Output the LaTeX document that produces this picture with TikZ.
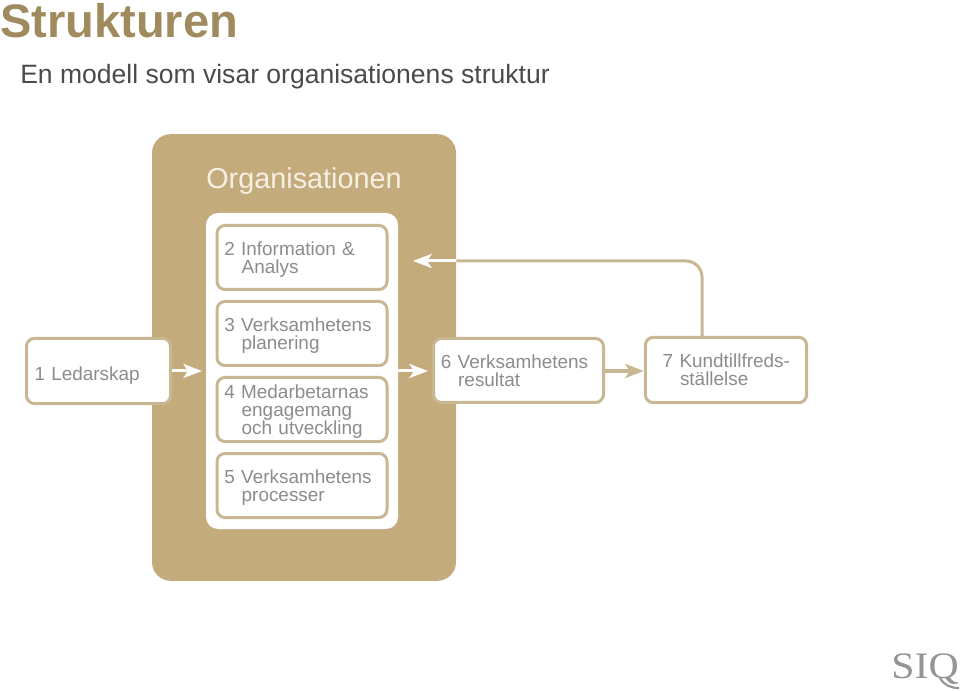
\documentclass[tikz,border=0pt]{standalone}
\usepackage{fontspec}
\setmainfont{Liberation Sans}
\newfontfamily\logofont{Liberation Serif}
\usetikzlibrary{arrows.meta}
\definecolor{goldFill}{HTML}{C4AB7C}
\definecolor{goldLine}{HTML}{C9B793}
\definecolor{goldTitle}{HTML}{A08B5E}
\definecolor{boxText}{HTML}{8C8C8E}
\definecolor{orgText}{HTML}{F6F0E2}
\definecolor{subText}{HTML}{4A4A4A}
\definecolor{logoText}{HTML}{949494}
\newcommand{\hangline}{\hspace*{13pt}}
\newcommand{\topgap}{\rule{0pt}{13pt}}
\tikzset{
  card/.style    ={draw=goldLine, fill=white, rounded corners=6pt, line width=2.25pt,
                   align=left, font=\fontsize{14.2}{13.5}\selectfont, text=boxText,
                   inner xsep=5.5pt, inner ysep=0pt},
  Linner/.style  ={card, minimum width=127.5pt, text width=116.5pt, minimum height=48pt},
  Lorg/.style    ={fill=goldFill, rounded corners=14pt, minimum width=228pt,
                   minimum height=335pt, inner sep=0pt},
  Lwhite/.style  ={fill=white, rounded corners=9pt, minimum width=144pt,
                   minimum height=237pt, inner sep=0pt},
  white-arrow/.style ={-{Stealth[length=14pt,width=10.5pt,inset=3.5pt]}, white, line width=2.25pt},
  gold-arrow/.style  ={-{Stealth[length=14pt,width=10.5pt,inset=3.5pt]}, goldLine, line width=3pt},
  gold-line/.style   ={goldLine, line width=2.25pt, rounded corners=12pt},
}
\begin{document}
\begin{tikzpicture}[x=0.75pt, y=-0.75pt]
\useasboundingbox (0,0) rectangle (960,691);

% heading
\node[anchor=base west, inner sep=0pt, font=\bfseries\fontsize{35.3}{35}\selectfont, text=goldTitle]
  (title) at (0,38) {Strukturen};
\node[anchor=base west, inner sep=0pt, font=\fontsize{19.9}{20}\selectfont, text=subText]
  (subtitle) at (20,84) {En modell som visar organisationens struktur};

% organisation block
\node[Lorg] (org) at (304,357.5) {};
\node[Lwhite] (inner) at (302,371) {};
\node[font=\fontsize{21.6}{21.6}\selectfont, text=orgText, inner sep=0pt] (orgTitle) at (304,181) {Organisationen};
\node[Linner] (info) at (302,257.5) {\topgap 2 Information \&\\ \hangline Analys};
\node[Linner] (plan) at (302,333.5) {\topgap 3 Verksamhetens\\ \hangline planering};
\node[Linner] (staff) at (302,409.5) {\topgap 4 Medarbetarnas\\ \hangline engagemang\\ \hangline och utveckling};
\node[Linner] (proc) at (302,485.5) {\topgap 5 Verksamhetens\\ \hangline processer};

% boxes outside
\node[card, minimum width=108pt, text width=96pt, minimum height=49pt] (lead) at (98.5,371)
  {\rule{0pt}{17.5pt}1 Ledarskap};
\node[card, minimum width=127.5pt, text width=116.5pt, minimum height=48pt] (result) at (518.5,370.5)
  {\rule{0pt}{10pt}6 Verksamhetens\\ \hangline resultat};
\node[card, minimum width=121pt, text width=101pt, minimum height=49pt, inner xsep=10pt] (customer) at (726,370)
  {\rule{0pt}{10pt}\hspace*{3pt}7 Kundtillfreds-\\ \hspace*{16pt}ställelse};

% arrows
\coordinate (leadTip) at (202,371);
\coordinate (resultIn) at (428,371);
\coordinate (feedCorner) at (702,261);
\coordinate (feedEdge) at (org.east |- feedCorner);
\coordinate (feedTip) at (413,261);
\draw[white-arrow] (lead.east |- leadTip) -- (leadTip);
\draw[white-arrow] (inner.east |- resultIn) -- (resultIn);
\draw[gold-arrow] (result.east |- resultIn) -- (customer.west |- resultIn);
\draw[gold-line] (feedCorner |- customer.north) -- (feedCorner) -- (feedEdge);
\draw[white-arrow] (feedEdge) -- (feedTip);

% logo
\node[anchor=base east, inner sep=0pt, font=\logofont\fontsize{28}{28}\selectfont, text=logoText, xscale=1.12]
  (logo) at (959,678) {SIQ};
\draw[logoText, line width=1.6pt] (logo.base east) ++(-19,0) to[out=-60, in=180] ++(19,10);

\end{tikzpicture}
\end{document}
